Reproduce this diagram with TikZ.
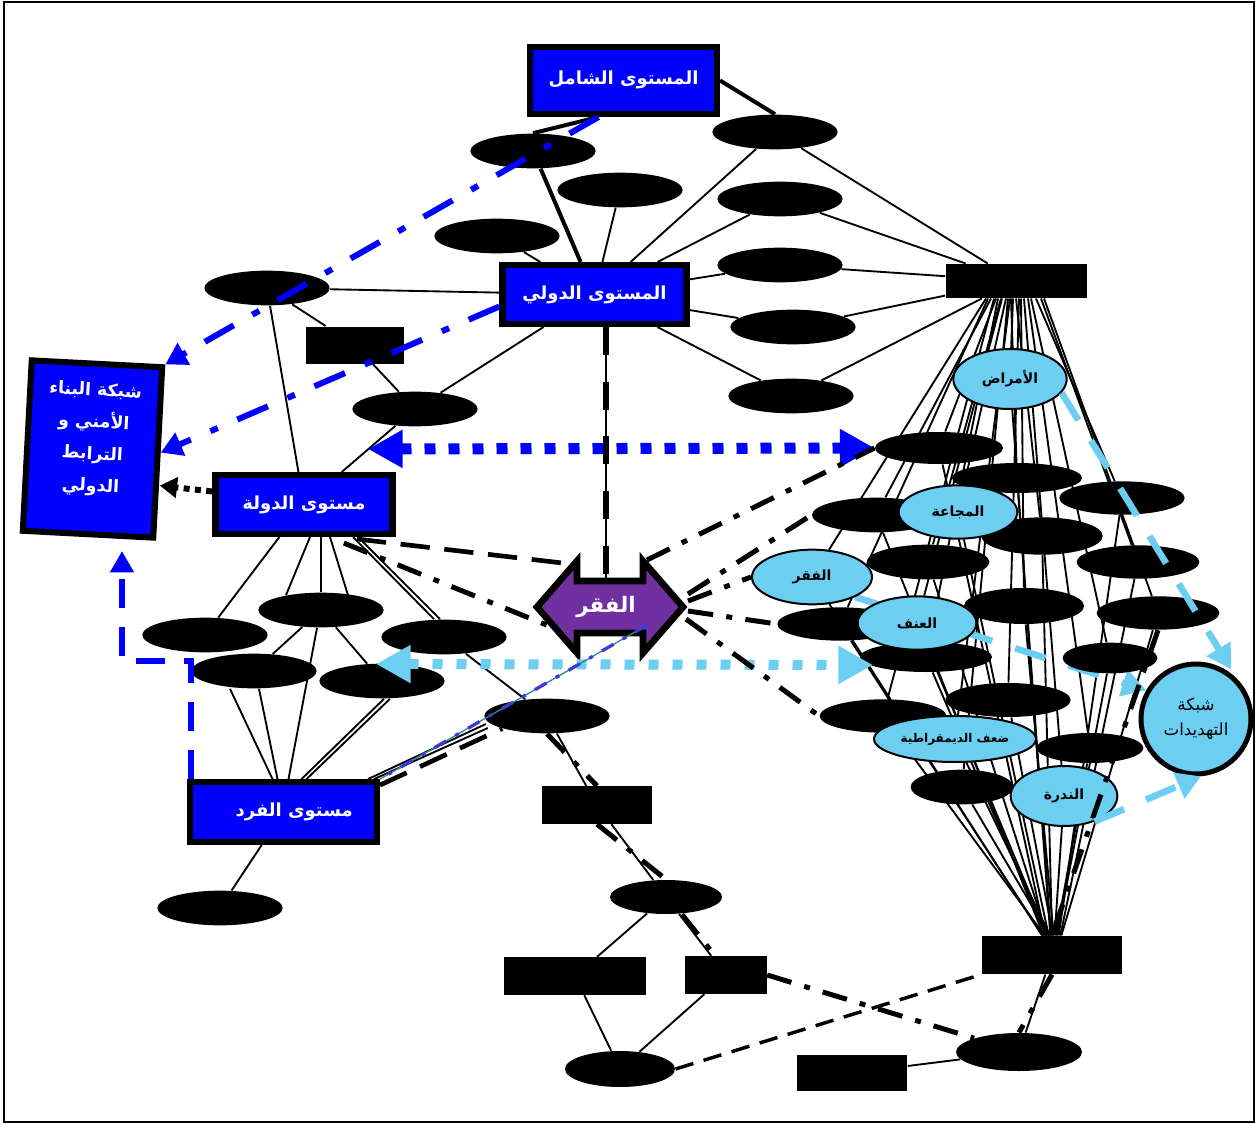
\documentclass[tikz,border=0pt]{standalone}
\usepackage{fontspec}
\usetikzlibrary{shapes.geometric,arrows.meta,calc}
\newfontfamily\arabicfont[Script=Arabic]{DejaVu Sans}
\TeXXeTstate=1
\newcommand{\artxt}[1]{{\arabicfont\beginR #1\endR}}
\definecolor{boxblue}{RGB}{0,0,255}
\definecolor{povpurple}{RGB}{112,48,160}
\definecolor{skyblue}{RGB}{108,206,240}
\definecolor{tealline}{RGB}{49,133,156}
\definecolor{dashblue}{RGB}{60,60,210}
\pgfdeclarelayer{background}
\pgfsetlayers{background,main}

\tikzset{every picture/.style={line width=0.75pt}}
\tikzset{
  blob/.style={ellipse, fill=black, inner sep=0pt, minimum width=94pt, minimum height=26pt},
  bar/.style={rectangle, fill=black, inner sep=0pt},
  level/.style={rectangle, draw=black, fill=boxblue, line width=4.8pt, text=white, inner sep=0pt, font=\fontsize{13.5}{16}\selectfont\bfseries},
  danger/.style={ellipse, draw=black, fill=skyblue, line width=1.5pt, inner sep=0pt, font=\fontsize{10.5}{12}\selectfont\bfseries},
  link/.style={line width=1.4pt},
  heavy/.style={line width=3pt},
  chainline/.style={line width=3.75pt, dash pattern=on 19pt off 10pt on 4.5pt off 10pt},
  brokenline/.style={line width=3.5pt, dash pattern=on 22pt off 11pt},
  bluechain/.style={draw=boxblue, line width=4.5pt, dash pattern=on 25pt off 16pt on 6pt off 16pt, arrows={-Triangle[length=16pt,width=18pt]}},
  bluedots/.style={draw=boxblue, line width=8.25pt, dash pattern=on 8.25pt off 9.75pt, arrows={Triangle[length=26pt,width=27pt]-Triangle[length=26pt,width=27pt]}},
  skydots/.style={draw=skyblue, line width=7.5pt, dash pattern=on 7.5pt off 10.5pt, arrows={Triangle[length=26pt,width=27pt]-Triangle[length=26pt,width=27pt]}},
  skydash/.style={draw=skyblue, line width=5pt, dash pattern=on 24pt off 18pt, arrows={-Triangle[length=18pt,width=20pt]}},
  bluedash/.style={draw=boxblue, line width=4pt, dash pattern=on 22pt off 14pt, arrows={-Triangle[length=16pt,width=17pt]}},
  blackdots/.style={line width=4.5pt, dash pattern=on 4.5pt off 4pt, arrows={-Triangle[length=13pt,width=15pt]}}
}

\begin{document}
\begin{tikzpicture}[x=0.75pt,y=0.75pt,yscale=-1,xscale=1]
\useasboundingbox (0,0) rectangle (1258,1124);
%Shape: Frame
\draw[line width=1.1pt] (4,2) rectangle (1254,1122);

%Black blobs, top part
\node[blob] (e1) at (533,151) {};
\node[blob] (e2) at (775,132) {};
\node[blob] (e3) at (620,190) {};
\node[blob] (e4) at (780,199) {};
\node[blob] (e5) at (497,236) {};
\node[blob] (e6) at (267,288) {};
\node[blob] (e7) at (780,265) {};
\node[blob] (e8) at (793,327) {};
\node[blob] (e9) at (415,409) {};
\node[blob] (e10) at (791,396) {};
\node[bar, minimum width=73.5pt, minimum height=27.75pt] (r1) at (355,345) {};
\node[bar, minimum width=105.75pt, minimum height=25.5pt] (r2) at (1016,281) {};

%Black blobs, lower left
\node[blob] (l1) at (205,635) {};
\node[blob] (l2) at (321,610) {};
\node[blob] (l3) at (444,637) {};
\node[blob] (l4) at (254,671) {};
\node[blob] (l5) at (382,681) {};
\node[blob] (l6) at (547,716) {};
\node[blob] (l7) at (220,908) {};
\node[bar, minimum width=83pt, minimum height=28pt] (r3) at (597,805) {};
\node[blob, minimum width=84pt, minimum height=25.5pt] (l8) at (666,897) {};
\node[bar, minimum width=106pt, minimum height=28pt] (r4) at (575,976) {};
\node[bar, minimum width=61pt, minimum height=28pt] (r5) at (726,975) {};
\node[blob, minimum width=82.5pt, minimum height=27pt] (l9) at (620,1069) {};
\node[bar, minimum width=105pt, minimum height=28.5pt] (r6) at (1052,955) {};
\node[blob, minimum width=94.5pt, minimum height=28.5pt] (l10) at (1019,1052) {};
\node[bar, minimum width=83pt, minimum height=27pt] (r7) at (852,1073) {};

%Black blobs, right cluster
\node[blob, minimum width=96pt, minimum height=24pt] (k1) at (939,448) {};
\node[blob, minimum width=97.5pt, minimum height=22.5pt] (k2) at (1017,478) {};
\node[blob, minimum width=94pt, minimum height=25pt] (k3) at (1122,498) {};
\node[blob, minimum width=96pt, minimum height=26pt] (k4) at (876,515) {};
\node[blob, minimum width=91pt, minimum height=28pt] (k5) at (1042,536) {};
\node[blob, minimum width=92pt, minimum height=26pt] (k6) at (928,562) {};
\node[blob, minimum width=92pt, minimum height=25pt] (k7) at (1138,562) {};
\node[blob, minimum width=90pt, minimum height=27pt] (k8) at (1024,606) {};
\node[blob, minimum width=92pt, minimum height=25pt] (k9) at (1158,613) {};
\node[blob, minimum width=94pt, minimum height=25pt] (k10) at (840,624) {};
\node[blob, minimum width=99pt, minimum height=22.5pt] (k13) at (926,657) {};
\node[blob, minimum width=71pt, minimum height=23pt] (k14) at (1110,658) {};
\node[blob, minimum width=94pt, minimum height=25.5pt] (k15) at (1008,700) {};
\node[blob, minimum width=95pt, minimum height=25pt] (k16) at (883,716) {};
\node[blob, minimum width=80pt, minimum height=22.5pt] (k17) at (1090,748) {};
\node[blob, minimum width=77pt, minimum height=26pt] (k18) at (962,787) {};

%Threat ovals
\node[danger, minimum width=85pt, minimum height=45pt] (b1) at (1010,379) {\artxt{الأمراض}};
\node[danger, minimum width=89pt, minimum height=40pt] (b2) at (958,512) {\artxt{المجاعة}};
\node[danger, minimum width=90pt, minimum height=41pt] (b3) at (812,577) {\artxt{الفقر}};
\node[danger, minimum width=89pt, minimum height=40pt] (b4) at (917,623) {\artxt{العنف}};
\node[danger, minimum width=121.5pt, minimum height=34.5pt, font=\fontsize{9}{11}\selectfont\bfseries] (b5) at (955,739) {\artxt{ضعف الديمقراطية}};
\node[danger, minimum width=80pt, minimum height=45pt] (b6) at (1064,796) {\artxt{الندرة}};
\node[circle, draw=black, fill=skyblue, line width=3.75pt, minimum size=82.5pt, inner sep=0pt, align=center, font=\fontsize{12.5}{19}\selectfont] (threat) at (1196,719) {\artxt{شبكة}\\\artxt{التهديدات}};

%Level boxes
\node[level, minimum width=140pt, minimum height=50pt] (glob) at (623.5,80.5) {\raisebox{5pt}{\artxt{المستوى الشامل}}};
\node[level, minimum width=138pt, minimum height=44pt] (intl) at (594.5,294.5) {\artxt{المستوى الدولي}};
\node[level, minimum width=133pt, minimum height=44pt] (state) at (304,504.5) {\artxt{مستوى الدولة}};
\node[level, minimum width=140pt, minimum height=44.6pt] (indiv) at (283.5,812) {\hspace*{16pt}\artxt{مستوى الفرد}};
\node[level, rotate=-3, line width=4.5pt, minimum width=98pt, minimum height=128pt, align=center, font=\fontsize{13}{24}\selectfont\bfseries] (netbox) at (92.5,449) {\artxt{شبكة البناء}\\\artxt{الأمني و}\\\artxt{الترابط}\\\artxt{الدولي}\\[-6pt]\mbox{}};

%Shape: Double arrow
\draw[line width=5pt, line join=miter, fill=povpurple] (537,607) -- (577,561) -- (577,581) -- (643,581) -- (643,561) -- (683,607) -- (643,653) -- (643,633) -- (577,633) -- (577,653) -- cycle;
\node[inner sep=0pt, minimum width=116pt, minimum height=37.5pt, text=white, font=\fontsize{16}{18}\selectfont\bfseries] (pov) at (606,607) {\artxt{الفقر}};

\coordinate (bluedotL) at (368,449);
\coordinate (skydotL) at (376,664);
\coordinate (skydotR) at (873,665);
\coordinate (netboxtip) at (122,551);

%Thin links
\begin{pgfonlayer}{background}
\foreach \n in {e2,e3,e4,e5,e6,e7,e8,e9,e10}
  \draw[link] (\n) -- (intl);
\foreach \n in {e2,e4,e7,e8,e10}
  \draw[link] (\n) -- (r2);
\draw[link] (e6) -- (r1);
\draw[link] (e6) -- (state);
\draw[link] (r1) -- (e9);
\draw[link] (e9) -- (state);
\draw[link] (state) -- (l1);
\draw[link] ($(state.south)+(6,0)$) -- ($(l2.north)+(-35,3)$);
\draw[link] ($(state.south)+(17,0)$) -- (l2.north);
\draw[link] ($(state.south)+(26,0)$) -- ($(l2.north)+(27,3)$);
\draw[link] ($(state.south)+(49,0)$) -- ($(l3.north)+(-10,0)$);
\draw[link] ($(state.south)+(54,0)$) -- ($(l3.north)+(-4,0)$);
\draw[link] (l2) -- (l4);
\draw[link] (l2) -- (l5);
\draw[link] ($(l2.south)+(-4,0)$) -- ($(indiv.north)+(5,0)$);
\draw[link] ($(l4.south)+(-24,0)$) -- ($(indiv.north)+(-11,0)$);
\draw[link] ($(l4.south)+(5,0)$) -- ($(indiv.north)+(-6,0)$);
\draw[link] ($(l5.south)+(2,0)$) -- ($(indiv.north)+(18,0)$);
\draw[link] ($(l5.south)+(8,0)$) -- ($(indiv.north)+(23,0)$);
\draw[link] (l3) -- (l6);
\draw[link] ($(l6.west)+(2,8)$) -- ($(indiv.north east)+(-12,0)$);
\draw[link] ($(l6.west)+(4,12)$) -- ($(indiv.north east)+(-6,0)$);
\draw[link] (indiv) -- (l7);
\draw[link] (l6) -- (r3);
\draw[link] (r3) -- (l8);
\draw[link] (l8) -- (r4);
\draw[link] (l8) -- (r5);
\draw[link] (r4) -- (l9);
\draw[link] (r5) -- (l9);
\draw[link] (r7) -- (l10);
\draw[link] (r6) -- (l10);
\foreach \n/\d in {k1/-20,k2/-5,k3/20,k4/-25,k5/0,k6/-15,k7/25,k8/5,k9/28,k10/-28,k13/-18,k14/15,k15/3,k16/-22,k17/12,k18/-8,b1/-3,b2/-10,b3/-30,b4/-14,b5/-6,b6/8}
{
  \draw[link] ($(r2.south)+(\d,0)$) -- (\n);
  \draw[link] (\n) -- ($(r6.north)+(\d/3,0)$);
}
\draw[skydash] (b3.south east) -- (threat.150);
\end{pgfonlayer}

%Thick links
\draw[heavy] (glob.east) -- (e2.north);
\draw[heavy] ($(glob.south)+(-25,0)$) -- (e1.north);
\draw[heavy] (e1) -- (intl);
\draw[bluechain] ($(glob.south)+(-25,0)$) -- (netbox.north east);
\draw[bluechain] ($(intl.west)+(0,12)$) -- (netbox.east);
\draw[blackdots] ($(state.west)+(0,-13)$) -- ($(netbox.east)+(-1,33)$);
\draw[bluedash] ($(indiv.north west)+(4,0)$) -- ++(0,-118) -| (netboxtip);
\draw[bluedots] (bluedotL) -- (k1.west);
\draw[skydots] (skydotL) -- (skydotR);
\draw[line width=1.2pt] (intl.south -| pov.north) -- (pov.north);
\draw[line width=5pt, dash pattern=on 21pt off 20pt] (intl.south -| pov.north) -- (pov.north);
\draw[brokenline] ($(state.south east)+(-39,2)$) -- ($(pov)+(-35,-43)$);
\draw[chainline] ($(state.south east)+(-52,6)$) -- ($(pov)+(-52,21)$);
\draw[chainline] ($(pov)+(41,-47)$) -- (k1.west);
\draw[chainline] ($(pov)+(82,-13)$) -- (k4.west);
\draw[chainline] ($(pov)+(82,-6)$) -- (b3.west);
\draw[chainline] ($(pov)+(82,4)$) -- (k10.west);
\draw[chainline] ($(pov)+(80,12)$) -- (k16.west);
\draw[draw=tealline, line width=1pt] ($(pov)+(41,18)$) -- (indiv.north east);
\draw[draw=dashblue, line width=2.5pt, dash pattern=on 10pt off 8pt on 3pt off 8pt] ($(pov)+(41,18)$) -- (indiv.north east);
\draw[brokenline] ($(indiv.north east)+(0,6)$) -- (l6.south west);
\draw[chainline] (l6.south) -- (r3.north);
\draw[chainline] (r3.south) -- (l8.north);
\draw[chainline] ($(l8.south)+(16,0)$) -- ($(r5.north)+(-11,0)$);
\draw[chainline] (r5.east) -- (l10.north west);
\draw[chainline] (r6.south) -- (l10.north);
\draw[line width=2.6pt, dash pattern=on 14pt off 8pt] (l9.east) -- (r6.south west);
\draw[chainline] (k9.south) -- (r6.north);
\draw[skydash, shorten >=8pt] (b1.-15) -- (threat.45);
\draw[skydash] (b6.-40) -- (threat.-85);

\end{tikzpicture}
\end{document}
